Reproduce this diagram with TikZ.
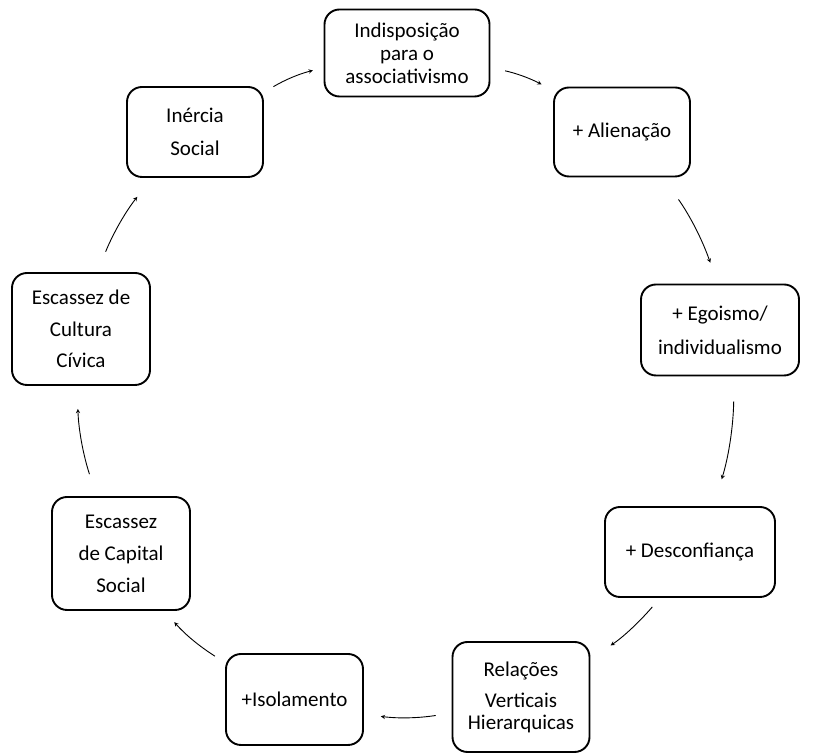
\documentclass[tikz,border=0pt]{standalone}
\usepackage{fontspec}
\setmainfont{Carlito}
\usepackage{tikz}

\begin{document}
\begin{tikzpicture}[x=1pt, y=1pt,
    caixa/.style={draw, line width=1.9pt, rounded corners=15pt, align=center, inner sep=0pt, font=\fontsize{21}{32}\selectfont},
    seta/.style={->, >=stealth, line width=0.9pt, bend left=8}]
            \useasboundingbox (0,0) rectangle (817,754);

            % Nodos do ciclo
            \node[caixa, minimum width=165, minimum height=87, font=\fontsize{21}{23}\selectfont] (indisp) at (407,701) {Indisposição\\para o\\associativismo};
            \node[caixa, minimum width=136, minimum height=89] (alien) at (622,622) {+ Alienação};
            \node[caixa, minimum width=158, minimum height=91, font=\fontsize{21}{34}\selectfont] (ego) at (720,424) {+ Egoismo/\\individualismo};
            \node[caixa, minimum width=170, minimum height=90] (desc) at (690,202) {+ Desconfiança};
            \node[caixa, minimum width=137, minimum height=110, font=\fontsize{21}{31}\selectfont] (rel) at (521,57) {Relações\\Verticais\\[-9pt]Hierarquicas};
            \node[caixa, minimum width=137, minimum height=91] (iso) at (294.5,54.5) {+Isolamento};
            \node[caixa, minimum width=138, minimum height=113] (cap) at (121,200.5) {Escassez\\de Capital\\Social};
            \node[caixa, minimum width=138, minimum height=112, font=\fontsize{21}{31.5}\selectfont] (cult) at (81,425) {Escassez de\\Cultura\\Cívica};
            \node[caixa, minimum width=136, minimum height=90, font=\fontsize{21}{33}\selectfont] (iner) at (195,622) {Inércia\\Social};

            % Setas
            \draw[seta, shorten <=11pt, shorten >=11pt] (iner.30) to (indisp.190);
            \draw[seta, shorten <=15pt, shorten >=13pt] (indisp.-10) to (alien.149);
            \draw[seta, shorten <=27pt, shorten >=22pt] (alien.-48) to (ego.93);
            \draw[seta, shorten <=25pt, shorten >=28pt] (ego.-73) to (desc.63);
            \draw[seta, shorten <=12pt, shorten >=24pt] (desc.237) to (rel.29);
            \draw[seta, shorten <=16pt, shorten >=17pt] (rel.193) to (iso.-12);
            \draw[seta, shorten <=12pt, shorten >=15pt] (iso.152) to (cap.-53);
            \draw[seta, shorten <=23pt, shorten >=23pt] (cap.113) to (cult.266);
            \draw[seta, shorten <=22pt, shorten >=24pt] (cult.74) to (iner.227);
        \end{tikzpicture}
\end{document}
